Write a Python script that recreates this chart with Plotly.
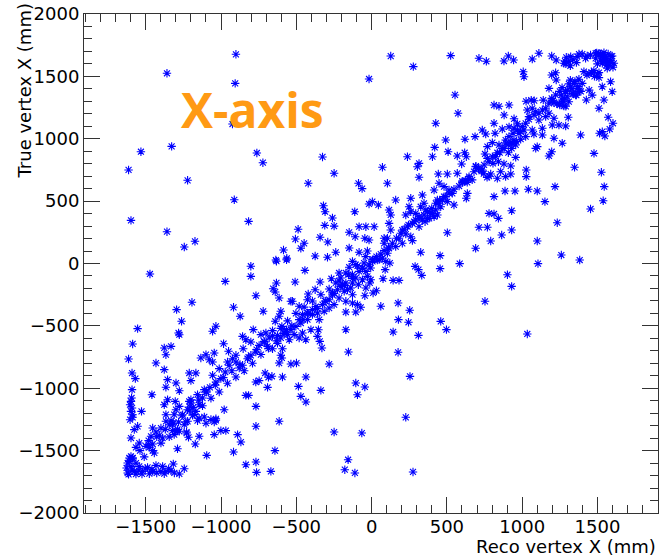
import plotly.graph_objects as go

# ---- data: (reco X, true X) in mm ----
reco_x_upper_left = [-901,-1359,-906,-17,-924,-1532,-1328,-1614,-762,-722,
    -1222,-326,-249,-421,-87,-63,-912,-1598,-817,-1359,
    -1173,-1244,-320,-309,-260,-311,-249,-112,-17,-488,
    -506,-448,-470,-585,-563,-636,-342,-291,-375,-293,
    -238,-149,-109,-83,-38,-45,-149,-83,-28]
true_x_upper_left = [1677,1525,1444,1479,1118,896,939,750,886,808,
    667,854,723,643,643,600,511,346,338,255,
    178,132,463,415,365,306,300,415,477,274,
    196,162,122,108,42,28,210,172,60,50,
    90,250,215,295,295,202,124,90,100]

reco_x_upper = [127,277,525,713,762,879,908,943,1067,1111,
    1196,1226,1284,1322,1377,1432,1488,1532,1500,1540,
    1560,1590,1570,1520,1590,1550,1290,1320,1360,1007,
    1012,1196,1222,1226,1310,1330,1350,1370,1390,1340,
    1320,1360,1300,1430,1460,1480,1510,1500,1178,1250,
    1270,1260,1280,1290,1265,1210,1230,1250,1200,1445,
    1465,1426,1532,1587,1598,1543,1510,1571,1603,1581,
    1532,1549,1514,554,574,426,813,846,913,880,
    946,968,913,1026,1060,1080,1140,1200,1034,1067,
    1090,1045,1111,1156,1178,1211,1244,1289,1306,1200,
    1134,1067,1012,990,1023,1078,1134,1211,1266,1388,
    1196,1178,1477,1348,1526,1545,1538,1454,1218,1151,
    1233,930,1100,1041,952,886,813,1027,1027,924,
    890,835,857,791,735,691,647,614,569,503,
    443,315,315,304,238,404,419,492,508,569,
    618,629,598,620,687,735,758,813,820,868,
    890,846,802,769,753,769,824,851,879,908,
    934,961,990,930,908,957,879,924,842,806,
    979,946,1100,1090,72,105,5,45,160,260,
    249,337,348,360,326,393,415,382,355,437,
    426,459,470,492,481,514,503,536,547,448,
    415,437,443,636,629,602,635,668,693,710,
    730,745,767,780,780,813,842,713,769,864,
    930,791,691,1100,1260,1382,455,326,503,127,
    116,127,105,83,116,105,72,38,5,17,
    -17,83,204,227,182,238,271,293,315,260,
    271,204,227,260,293,315,337,371,404,116,
    160]
true_x_upper = [1663,1578,1666,1645,1621,1623,1663,1631,1639,1685,
    1663,1631,1623,1658,1679,1663,1685,1671,1600,1640,
    1590,1660,1620,1680,1610,1660,1600,1585,1610,1537,
    1497,1511,1529,1471,1440,1400,1460,1420,1380,1360,
    1470,1350,1390,1510,1530,1500,1490,1520,1404,1380,
    1300,1350,1320,1260,1410,1290,1280,1270,1305,1390,
    1350,1311,1417,1457,1377,1311,1244,1172,1124,1078,
    1057,1022,1044,1351,1204,1124,1270,1260,1270,1190,
    1160,1120,1095,1300,1310,1305,1310,1300,1230,1244,
    1217,1177,1150,1177,1204,1164,1110,1102,1172,1110,
    1084,1070,1070,1057,1017,1038,1030,1004,964,1030,
    896,862,883,771,731,616,503,437,616,496,
    327,423,581,595,581,581,536,750,696,717,
    696,683,736,717,750,776,683,656,723,717,
    717,691,803,776,856,856,931,990,896,862,
    888,856,798,996,1017,1070,1038,1124,1044,1078,
    990,950,969,937,878,843,856,888,923,950,
    964,977,996,923,888,851,798,782,816,803,
    1044,1084,937,923,771,643,496,469,509,523,
    455,549,483,429,455,402,375,362,335,389,
    429,455,509,536,616,589,496,562,469,643,
    589,509,483,562,523,660,650,670,780,760,
    740,720,690,700,402,397,362,290,290,228,
    268,180,122,180,68,28,63,90,247,389,
    322,268,202,162,122,82,42,28,28,295,
    188,202,268,236,202,295,322,349,295,215,
    183,162,389,415,402,375,349,362,402,429,
    135]

reco_x_band_upper = [1495,1510,1543,1571,1598,1532,1558,1587,1609,1549,
    1521,1576,1603,1565,1532,1488,1454,1421,1399,1366,
    1338,1310,1277,1293,1476,1510,1443,1410,1377,1344,
    1399,1366,1322,1288,1333,1299,1266,1249,1277,1310,
    1355,1381,1222,1196,1178,1156,1134,1111,1078,1045,
    1023,1001,968,939,912,924,957,946,891,868,
    835,802,780,747,713,680,647,625,603,581,
    547,514,481,452,426,399,371,348,315,282,
    245,216,194,165,138,112,83,61,32,10]
true_x_band_upper = [1688,1685,1690,1679,1663,1658,1645,1626,1605,1618,
    1631,1591,1573,1565,1605,1645,1671,1645,1679,1658,
    1637,1618,1605,1653,1546,1530,1524,1538,1477,1444,
    1444,1404,1417,1377,1364,1337,1311,1279,1262,1297,
    1351,1385,1351,1324,1284,1244,1230,1204,1190,1156,
    1124,1097,1070,1044,1017,969,950,990,964,923,
    888,856,816,790,763,736,696,664,648,621,
    595,563,536,509,483,442,416,389,362,335,
    309,274,242,202,162,130,103,76,55,33]

reco_x_lower = [-802,-802,-632,-565,-443,-216,-149,-127,-105,-171,
    -194,-138,-88,-61,-38,-17,-50,-38,-45,-94,
    -72,-127,-171,-171,-105,-171,-154,-105,-45,-94,
    -65,-249,-156,-178,-111,-260,-282,-304,-326,-360,
    -393,-426,-455,-426,-481,-526,-603,-614,-640,-720,
    -768,-348,-353,-403,-360,-344,-330,-282,-436,-337,
    -470,-436,-486,-614,-642,-768,-764,-669,-835,-768,
    -768,-817,-917,-868,-890,-968,-1001,-1045,-1034,-979,
    -1095,-1145,-1171,-1216,-1229,-1289,-1244,-1277,-1317,-1332,
    -1366,-1388,-1432,-1454,-1488,-1521,-1543,-1576,-1598,-1620,
    -1609,-1587,-1614,-1587,-1554,-1591,-1569,-1591,-1594,-1598,
    -1587,-1528,-1554,-1576,-1598,-1565,-1543,-1498,-1476,-1454,
    -1443,-1481,-1465,-1454,-1432,-1410,-1388,-1399,-1366,-1344,
    -1322,-1332,-1311,-1299,-1366,-1377,-1355,-1304,-1277,-1282,
    -1277,-1229,-1211,-1185,-1200,-1459,-1366,-1299,-1277,-1355,
    -1377,-1432,-1377,-1366,-1332,-1277,-1282,-1262,-1295,-1193,
    -1472,-972,-873,-917,-1034,-1056,-983,-950,-857,-835,
    -786,-735,-702,-680,-713,-747,-769,-802,-824,-857,
    -879,-901,-923,-946,-972,-1001,-1034,-1074,-1100,-1123,
    -1145,-1167,-1189,-1222,-1244,-1255,-1211,-1156,-1111,-1056,
    -1012,-957,-901,-853,-802,-691,-658,-625,-603,-581,
    -596,-565,-658,-625,-592,-603,-614,-536,-499,-596,
    -547,-514,-481,-459,-437,-747,-769,-685,-662,-707,
    -592,-691,-835,-1211,-1167,-1200,-1134,-1100,-1078,-1045,
    -1056,-1200,-1222,-1145,-1100,-1067,-1111,-1156,-1045,-1034,
    -1322,-1300,-1311,-260,-227,-205,-182,-160,-127,-216,
    -249,-282,-315,-127,-61,-28,-12,-83,-105,-127,
    -171,-205,-238,-393,-426,-470,-503,-536,-558,-359,
    -459,-632,-654,-640,-614,-508,-342,-267,-421,-375,
    -536,-1627,-1614,-1591,-1565,-1547,-1525,-1503,-1476,-1459,
    -1427,-1399,-1377,-1348,-1310,-1609,-1598,-1620,-1598,-1591,
    -1604,-1587,-1604]
true_x_lower = [-22,-103,18,30,-55,-76,-30,-90,-116,-156,
    -170,-196,-170,-130,-63,-10,4,-196,-258,-330,
    -351,-317,-303,-389,-389,-531,-709,-958,-990,-1052,
    -1359,-1351,-1573,-1653,-1679,-250,-290,-303,-330,-362,
    -370,-397,-450,-290,-343,-303,-383,-423,-463,-383,
    -258,-450,-531,-531,-584,-624,-677,-806,-910,-1017,
    -1065,-1110,-985,-1265,-1500,-1591,-1674,-1666,-1613,-1305,
    -1145,-1057,-1511,-1431,-1372,-1340,-1340,-1372,-1257,-1172,
    -1538,-1385,-1447,-1393,-1351,-1485,-1645,-1687,-1607,-1661,
    -1666,-1626,-1618,-1666,-1634,-1666,-1626,-1666,-1626,-1679,
    -1586,-1559,-766,-645,-522,-878,-923,-1011,-1078,-1185,
    -1212,-1185,-1305,-1332,-1399,-1474,-1439,-1466,-1474,-1447,
    -1519,-1420,-1385,-1319,-1351,-1377,-1399,-1319,-1265,-1292,
    -1340,-1260,-1212,-1172,-1212,-1132,-1092,-1105,-1145,-1271,
    -1345,-1359,-1180,-1153,-1092,-1052,-992,-958,-1020,-931,
    -851,-798,-677,-731,-664,-571,-557,-463,-370,-311,
    -84,-143,-423,-351,-503,-543,-643,-704,-584,-611,
    -530,-570,-557,-597,-624,-656,-709,-736,-763,-816,
    -838,-790,-763,-816,-870,-923,-950,-993,-1030,-1078,
    -1132,-1185,-1217,-1265,-1292,-1212,-1105,-1051,-1011,-896,
    -843,-790,-736,-683,-629,-664,-683,-640,-597,-557,
    -504,-530,-538,-576,-683,-736,-798,-806,-798,-757,
    -611,-570,-597,-557,-611,-939,-950,-912,-904,-878,
    -910,-993,-1057,-878,-878,-939,-757,-731,-771,-717,
    -790,-1118,-1172,-1240,-1280,-1250,-1230,-1260,-1270,-1245,
    -1287,-1345,-1372,-236,-210,-183,-223,-210,-250,-277,
    -330,-357,-383,-156,-36,-103,-156,-63,-9,17,
    -76,-116,-156,-410,-450,-477,-504,-530,-570,-397,
    -410,-156,-202,-228,-277,-148,-148,-122,-245,-210,
    -303,-1639,-1690,-1653,-1688,-1661,-1687,-1645,-1685,-1653,
    -1679,-1666,-1685,-1645,-1679,-1559,-1546,-1599,-1105,-1158,
    -1132,-1233,-1252]

reco_x_band_lower = [-39,-61,-94,-127,-154,-182,-216,-249,-282,-309,
    -337,-370,-393,-420,-448,-481,-503,-530,-558,-581,
    -603,-631,-658,-685,-713,-735,-764,-791,-817,-846,
    -874,-901,-928,-957,-985,-1012,-1038,-1067,-1095,-1123,
    -1149,-1178,-1207,-1233,-1260,-1289,-1317,-1344,-1370,-1399,
    -1427,-1454,-1481,-1510,-1538,-1565,-1587]
true_x_band_lower = [55,-40,-20,-120,-90,-175,-140,-240,-205,-300,
    -250,-345,-300,-400,-350,-450,-400,-500,-460,-560,
    -520,-620,-580,-680,-630,-730,-690,-800,-750,-860,
    -810,-910,-860,-960,-915,-1030,-975,-1080,-1030,-1140,
    -1095,-1210,-1150,-1270,-1220,-1330,-1280,-1390,-1330,-1440,
    -1390,-1500,-1450,-1550,-1500,-1600,-1560]

reco_x_lower_right = [6,50,94,121,90,-6,-6,76,143,182,
    32,10,61,176,253,178,245,143,311,176,
    255,227,275,289,311,333,455,585,459,497,
    753,902,930,1034,1105]
true_x_lower_right = [17,31,17,4,-49,-36,-130,-122,-135,-135,
    -218,-236,-343,-317,-375,-450,-471,-549,-576,-712,
    -905,-1233,-1671,-23,-49,-95,-41,-1,-464,-530,
    -303,-90,-183,-565,-1]

x_ticks = [-1500, -1000, -500, 0, 500, 1000, 1500]
y_ticks = [-2000, -1500, -1000, -500, 0, 500, 1000, 1500, 2000]
x_title = "Reco vertex X (mm)"
y_title = "True vertex X (mm)"
label_text = "X-axis"

reco_x = (reco_x_upper_left + reco_x_upper + reco_x_band_upper +
          reco_x_lower + reco_x_band_lower + reco_x_lower_right)
true_x = (true_x_upper_left + true_x_upper + true_x_band_upper +
          true_x_lower + true_x_band_lower + true_x_lower_right)
assert len(reco_x) == len(true_x)

W, H = 659, 558
L, R, T, B = 84, 1, 14, 45
pw, ph = W - L - R, H - T - B

fig = go.Figure(go.Scatter(
    x=reco_x, y=true_x, mode="markers",
    marker=dict(symbol="asterisk-open", size=7, color="#0000ff",
                line=dict(color="#0000ff", width=1.1)),
    hoverinfo="skip", showlegend=False,
))

axis_common = dict(
    showgrid=False, zeroline=False, showline=True, linecolor="#333333",
    linewidth=1, mirror="allticks", ticks="inside", ticklen=16,
    tickwidth=1, tickcolor="#333333",
    tickfont=dict(family="DejaVu Sans", size=18, color="#000000"),
)

fig.update_xaxes(range=[-1910, 1902], tickvals=x_ticks, ticklabelstandoff=-3,
                 minor=dict(dtick=100, ticks="inside", ticklen=8,
                            tickcolor="#333333", tickwidth=1, tick0=0),
                 **axis_common)
fig.update_yaxes(range=[-2000, 2000], tickvals=y_ticks,
                 minor=dict(dtick=100, ticks="inside", ticklen=8,
                            tickcolor="#333333", tickwidth=1, tick0=0),
                 **axis_common)

title_font = dict(family="DejaVu Sans", size=18, color="#000000")
fig.add_annotation(text=x_title, xref="paper", yref="paper",
                   x=(658 - L) / pw, y=(H - B - 546) / ph,
                   xanchor="right", yanchor="middle", showarrow=False,
                   font=title_font)
fig.add_annotation(text=y_title, xref="paper", yref="paper",
                   x=(24 - L) / pw, y=(H - B - 2) / ph,
                   xanchor="center", yanchor="top", textangle=-90,
                   showarrow=False, font=title_font)
fig.add_annotation(text=label_text, xref="paper", yref="paper",
                   x=(252.5 - L) / pw, y=(H - B - 110) / ph,
                   xanchor="center", yanchor="middle", showarrow=False,
                   font=dict(family="Open Sans", size=48, color="#FF9A14",
                             weight=700))

fig.update_layout(width=W, height=H, margin=dict(l=L, r=R, t=T, b=B),
                  paper_bgcolor="white", plot_bgcolor="white")

fig.write_html("out.html")
